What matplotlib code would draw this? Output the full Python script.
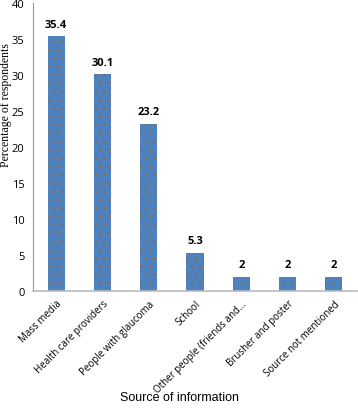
import matplotlib
matplotlib.use("Agg")
import matplotlib.pyplot as plt

categories = ["Mass media", "Health care providers", "People with glaucoma", "School",
              "Other people (friends and...", "Brusher and poster", "Source not mentioned"]
values = [35.4, 30.1, 23.2, 5.3, 2, 2, 2]
value_labels = ["35.4", "30.1", "23.2", "5.3", "2", "2", "2"]
yticks = [0, 5, 10, 15, 20, 25, 30, 35, 40]

plt.rcParams['hatch.color'] = '#A0602A'
plt.rcParams['hatch.linewidth'] = 0.3

fig = plt.figure(figsize=(3.58, 4.10), dpi=100)
ax = fig.add_axes([33/358, 118/410, 324/358, 288/410])

x = range(len(categories))
bars = ax.bar(x, values, width=0.37, color='#4F81BD', hatch='..', edgecolor=None, linewidth=0)
for xi, v, lab in zip(x, values, value_labels):
    ax.text(xi, v + 0.9, lab, ha='center', va='bottom', fontsize=8, fontweight='bold',
            family='Open Sans')

ax.set_xlim(-0.5, len(categories) - 0.5)
ax.set_ylim(0, 40)
ax.set_yticks(yticks)
ax.set_yticklabels([str(t) for t in yticks], fontsize=8, family='Open Sans')
ax.set_xticks(list(x))
ax.set_xticklabels(categories, rotation=45, ha='right', rotation_mode='anchor',
                   fontsize=7, family='Open Sans')
ax.tick_params(axis='y', length=0, pad=6)
ax.tick_params(axis='x', length=0, pad=5)

for s in ['top', 'right']:
    ax.spines[s].set_visible(False)
ax.spines['left'].set_color('#999999')
ax.spines['bottom'].set_color('#BBBBBB')
ax.spines['bottom'].set_linewidth(1.2)

fig.text(6/358, 1 - 105/410, "Percentage of respondents", rotation=90, ha='center', va='center',
         fontsize=8.5, family='Liberation Serif')
fig.text(0.5, 12/410, "Source of information", ha='center', va='center', fontsize=9,
         family='Liberation Sans')

fig.savefig("out.png", dpi=100)
